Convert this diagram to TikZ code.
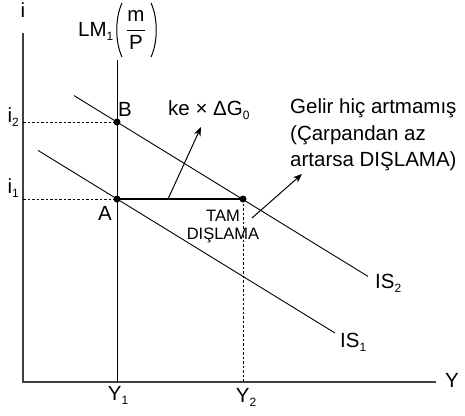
\documentclass[tikz,border=0pt]{standalone}
\usepackage{fontspec}
\setmainfont{Liberation Sans}
\usepackage{amsmath}
\usetikzlibrary{arrows.meta}
\newcommand\sbs[1]{\raisebox{-0.4ex}{\fontsize{12}{12}\selectfont #1}}
\tikzset{
  axisline/.style={line width=1.4pt, draw=black!75},
  curve/.style={line width=0.9pt},
  paren/.style={line width=1pt},
  guide/.style={line width=0.9pt, dash pattern=on 2.5pt off 2pt},
  thick line/.style={line width=2.2pt},
  arrowline/.style={line width=1pt, -{Stealth[length=9pt,width=7pt]}},
  dot/.style={circle, fill=black, inner sep=0pt, minimum size=7pt},
  lbl/.style={inner sep=0pt, font=\fontsize{20.5}{24}\selectfont},
  small/.style={inner sep=0pt, font=\fontsize{16.5}{19}\selectfont},
}
\begin{document}
\begin{tikzpicture}[x=1pt,y=-1pt]
\useasboundingbox (0,0) rectangle (465,415);
% coordinates
\coordinate (O) at (23,382);
\coordinate (ytop) at (23,33);
\coordinate (xend) at (436,382);
\coordinate (lmtop) at (117,60);
\coordinate (lmbot) at (117,382);
\coordinate (i2) at (23,122);
\coordinate (i1) at (23,199);
\coordinate (y2) at (243,382);
\coordinate (is2a) at (74,95.6);
\coordinate (is2b) at (368,276.4);
\coordinate (is1a) at (38,150.4);
\coordinate (is1b) at (335,333);
\coordinate (arA) at (168,199);
\coordinate (arB) at (201,127);
\coordinate (arC) at (252,218);
\coordinate (arD) at (302,174);
% axes
\draw[axisline] (ytop) -- (O) -- (xend);
% points
\node[dot] (B) at (117,122) {};
\node[dot] (A) at (117,199) {};
\node[dot] (C) at (243,199) {};
% guides
\draw[guide] (i2) -- (B.center);
\draw[guide] (i1) -- (A.center);
\draw[guide] (C.center) -- (y2);
% LM
\draw[curve] (lmtop) -- (lmbot);
% IS curves
\draw[curve] (is2a) -- (is2b);
\draw[curve] (is1a) -- (is1b);
% thick segment
\draw[thick line] (A.center) -- (C.center);
% arrows
\draw[arrowline] (arA) -- (arB);
\draw[arrowline] (arC) -- (arD);
% labels
\node[lbl, anchor=base] (ilab) at (23,17) {i};
\node[lbl, anchor=base] (Ylab) at (452,387) {Y};
\node[lbl, anchor=base east] (i2lab) at (19,122) {i\sbs{2}};
\node[lbl, anchor=base east] (i1lab) at (19,193) {i\sbs{1}};
\node[lbl, anchor=base] (Y1lab) at (118,400) {Y\sbs{1}};
\node[lbl, anchor=base] (Y2lab) at (246,402) {Y\sbs{2}};
\node[lbl, anchor=base west] (Blab) at (118,116) {B};
\node[lbl, anchor=base east] (Alab) at (112,220) {A};
\node[lbl, anchor=base west] (IS2lab) at (375,288) {IS\sbs{2}};
\node[lbl, anchor=base west] (IS1lab) at (340,347) {IS\sbs{1}};
\node[lbl, anchor=base west] (kelab) at (168,115) {ke × ΔG\sbs{0}};
\node[small, anchor=base] (tam) at (223,221) {TAM};
\node[small, anchor=base] (disl) at (223,239) {DIŞLAMA};
\node[lbl, anchor=base west] (g1) at (290,113) {Gelir hiç artmamış};
\node[lbl, anchor=base west] (g2) at (290,140) {(Çarpandan az};
\node[lbl, anchor=base west] (g3) at (290,166) {artarsa DIŞLAMA)};
\node[lbl, anchor=base west] (lmlab) at (78,36) {LM\sbs{1}};
\node[lbl] (frac) at (136,30) {$\dfrac{\text{m}}{\text{P}}$};
\draw[paren] (122,3) .. controls (115,18) and (115,42) .. (122,57);
\draw[paren] (151,3) .. controls (158,18) and (158,42) .. (151,57);
\end{tikzpicture}
\end{document}
